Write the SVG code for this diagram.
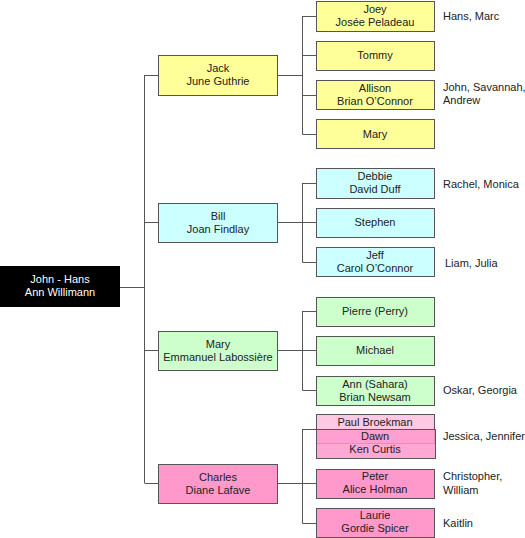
<svg xmlns="http://www.w3.org/2000/svg" width="525" height="538" viewBox="0 0 525 538">
<style>
text{font-family:"Liberation Sans",Arial,sans-serif;font-size:11px;fill:#222;text-anchor:middle}
text.l{text-anchor:start}
.b{stroke:#555;stroke-width:1}
.y{fill:#FFFF99}.c{fill:#CCFFFF}.g{fill:#CCFFCC}.p{fill:#FF99CC}
#conn path{fill:none;stroke:#555;stroke-width:1}
</style>
<rect width="525" height="538" fill="#fff"/>
<g id="conn">
<path d="M119 287.5H144.5M144.5 75V483M144.5 75.5H158M144.5 222.5H158M144.5 350.5H158M144.5 483.5H158"/>
<path d="M277 75.5H302.5M302.5 16V134.5M302.5 16.5H316M302.5 55.5H316M302.5 95.5H316M302.5 134.5H316"/>
<path d="M277 222.5H302.5M302.5 183V262.5M302.5 183.5H316M302.5 222.5H316M302.5 262.5H316"/>
<path d="M277 350.5H302.5M302.5 311V390.5M302.5 311.5H316M302.5 350.5H316M302.5 390.5H316"/>
<path d="M277 483.5H302.5M302.5 429V523.5M302.5 429.5H316M302.5 483.5H316M302.5 523.5H316"/>
</g>
<g id="root"><rect x="0.5" y="266.5" width="119" height="40" fill="#000" stroke="#000"/><text x="60" y="283" style="fill:#fff">John - Hans</text><text x="60" y="296" style="fill:#fff">Ann Willimann</text></g>
<g id="jack"><rect class="b y" x="158.5" y="55.5" width="119" height="40"/><text x="218" y="72">Jack</text><text x="218" y="85">June Guthrie</text></g>
<g id="bill"><rect class="b c" x="158.5" y="203.5" width="119" height="39"/><text x="218" y="220">Bill</text><text x="218" y="233">Joan Findlay</text></g>
<g id="mary"><rect class="b g" x="158.5" y="331.5" width="119" height="39"/><text x="218" y="348">Mary</text><text x="218" y="361">Emmanuel Labossière</text></g>
<g id="charles"><rect class="b p" x="158.5" y="464.5" width="119" height="39"/><text x="218" y="481">Charles</text><text x="218" y="494">Diane Lafave</text></g>

<g id="joey"><rect class="b y" x="316.5" y="1.5" width="118" height="30"/><text x="375" y="13">Joey</text><text x="375" y="26">Josée Peladeau</text></g>
<g id="tommy"><rect class="b y" x="316.5" y="41.5" width="118" height="29"/><text x="375" y="59">Tommy</text></g>
<g id="allison"><rect class="b y" x="316.5" y="80.5" width="118" height="29"/><text x="375" y="92">Allison</text><text x="375" y="105">Brian O’Connor</text></g>
<g id="mary2"><rect class="b y" x="316.5" y="119.5" width="118" height="29"/><text x="375" y="138">Mary</text></g>

<g id="debbie"><rect class="b c" x="316.5" y="168.5" width="118" height="30"/><text x="375" y="180">Debbie</text><text x="375" y="193">David Duff</text></g>
<g id="stephen"><rect class="b c" x="316.5" y="208.5" width="118" height="29"/><text x="375" y="226">Stephen</text></g>
<g id="jeff"><rect class="b c" x="316.5" y="247.5" width="118" height="29"/><text x="375" y="259">Jeff</text><text x="375" y="272">Carol O’Connor</text></g>

<g id="pierre"><rect class="b g" x="316.5" y="297.5" width="118" height="29"/><text x="375" y="315">Pierre (Perry)</text></g>
<g id="michael"><rect class="b g" x="316.5" y="336.5" width="118" height="29"/><text x="375" y="354">Michael</text></g>
<g id="ann"><rect class="b g" x="316.5" y="376.5" width="118" height="29"/><text x="375" y="388">Ann (Sahara)</text><text x="375" y="401">Brian Newsam</text></g>

<g id="paul"><rect class="b" x="316.5" y="414.5" width="118" height="29" fill="#FFC8E3"/><text x="375" y="426">Paul Broekman</text></g>
<g id="dawn"><rect class="b" x="316.5" y="429.5" width="119" height="29" fill="#FF99CC" fill-opacity="0.85"/><text x="375" y="440">Dawn</text><text x="375" y="453">Ken Curtis</text></g>
<g id="peter"><rect class="b p" x="316.5" y="469.5" width="118" height="29"/><text x="375" y="480">Peter</text><text x="375" y="493">Alice Holman</text></g>
<g id="laurie"><rect class="b p" x="316.5" y="508.5" width="118" height="29"/><text x="375" y="519">Laurie</text><text x="375" y="532">Gordie Spicer</text></g>

<g id="notes">
<text class="l" x="443" y="20">Hans, Marc</text>
<text class="l" x="443" y="91">John, Savannah,</text>
<text class="l" x="443" y="104">Andrew</text>
<text class="l" x="443" y="188">Rachel, Monica</text>
<text class="l" x="445" y="267">Liam, Julia</text>
<text class="l" x="443" y="394">Oskar, Georgia</text>
<text class="l" x="443" y="440">Jessica, Jennifer</text>
<text class="l" x="443" y="480">Christopher,</text>
<text class="l" x="443" y="494">William</text>
<text class="l" x="443" y="527">Kaitlin</text>
</g>
</svg>
